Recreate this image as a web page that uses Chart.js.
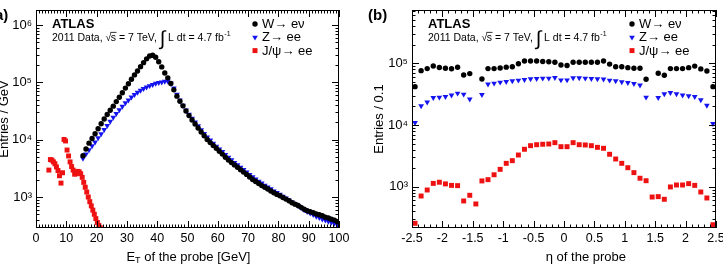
<!DOCTYPE html>
<html>
<head>
<meta charset="utf-8">
<script src="https://cdn.jsdelivr.net/npm/chart.js@4.4.1/dist/chart.umd.min.js"></script>
<style>
  html, body { margin: 0; padding: 0; background: #fff; }
  #wrap { position: relative; width: 723px; height: 271px; overflow: hidden; }
  canvas { position: absolute; top: 0; }
  #etChart { left: 0; width: 361px; height: 271px; }
  #etaChart { left: 361px; width: 362px; height: 271px; }
</style>
</head>
<body>
<div id="wrap">
  <canvas id="etChart" width="361" height="271"></canvas>
  <canvas id="etaChart" width="362" height="271"></canvas>
</div>
<script>
// ---- data: (a) probe ET, 1 GeV bins for W and Z, 0.5 GeV bins for J/psi ----
const etBins = [15.5, 16.5, 17.5, 18.5, 19.5, 20.5, 21.5, 22.5, 23.5, 24.5, 25.5, 26.5, 27.5, 28.5, 29.5,
  30.5, 31.5, 32.5, 33.5, 34.5, 35.5, 36.5, 37.5, 38.5, 39.5, 40.5, 41.5, 42.5, 43.5, 44.5,
  45.5, 46.5, 47.5, 48.5, 49.5, 50.5, 51.5, 52.5, 53.5, 54.5, 55.5, 56.5, 57.5, 58.5, 59.5,
  60.5, 61.5, 62.5, 63.5, 64.5, 65.5, 66.5, 67.5, 68.5, 69.5, 70.5, 71.5, 72.5, 73.5, 74.5,
  75.5, 76.5, 77.5, 78.5, 79.5, 80.5, 81.5, 82.5, 83.5, 84.5, 85.5, 86.5, 87.5, 88.5, 89.5,
  90.5, 91.5, 92.5, 93.5, 94.5, 95.5, 96.5, 97.5, 98.5, 99.5];
const wEt = [5250, 6900, 8700, 10500, 12700, 15500, 19000, 22900, 27500, 32700, 38500, 46200, 55000, 66000, 79400,
  94400, 113500, 135000, 158000, 188000, 221000, 257000, 288000, 298000, 275000, 229000, 186000, 146000, 120000, 95500,
  74000, 57500, 46800, 38900, 31600, 26300, 22100, 18800, 16000, 13600, 11700, 10100, 8900, 7950, 7100,
  6300, 5600, 4950, 4420, 3980, 3630, 3310, 2990, 2720, 2480, 2240, 2020, 1860, 1720, 1580,
  1480, 1380, 1270, 1190, 1110, 1050, 980, 920, 860, 795, 750, 710, 660, 610, 575,
  555, 530, 505, 490, 470, 445, 430, 410, 395, 370];
const zEt = [4730, 5620, 6610, 7760, 9020, 10700, 12600, 15000, 17600, 20900, 24500, 28500, 33100, 38000, 43700,
  49000, 55000, 61000, 66800, 72400, 77600, 82200, 87100, 91200, 95500, 98900, 101000, 103500, 104700, 96600,
  79400, 61700, 49000, 39800, 32700, 27500, 23400, 20200, 17400, 14800, 12700, 11100, 9800, 8600, 7670,
  6840, 6170, 5500, 4900, 4420, 3980, 3630, 3270, 2990, 2720, 2450, 2240, 2040, 1880, 1740,
  1600, 1480, 1380, 1270, 1190, 1110, 1020, 955, 880, 810, 760, 700, 645, 595, 555,
  520, 490, 460, 435, 410, 395, 375, 360, 345, 330];
const jpsiBins = [4.25, 4.75, 5.25, 5.75, 6.25, 6.75, 7.25, 7.75, 8.25, 8.75, 9.25, 9.75, 10.25, 10.75, 11.25, 11.75,
  12.25, 12.75, 13.25, 13.75, 14.25, 14.75, 15.25, 15.75, 16.25, 16.75, 17.25, 17.75, 18.25, 18.75,
  19.25, 19.75, 20.25, 20.75, 21.25, 21.75];
const jpsiEt = [2950, 4500, 4400, 4100, 3800, 3350, 2900, 2350, 1750, 2650, 10100, 9500, 6600, 5200, 4100, 3400,
  2950, 2500, 2550, 2800, 2750, 2550, 2200, 1800, 1480, 1220, 1000, 830, 700, 590,
  500, 420, 360, 320, 290, 260];

// ---- data: (b) probe eta, 0.1 bins (crack bin empty for W and Z) ----
const etaBins = [-2.45, -2.35, -2.25, -2.15, -2.05, -1.95, -1.85, -1.75, -1.65, -1.55,
  -1.45, -1.35, -1.25, -1.15, -1.05, -0.95, -0.85, -0.75, -0.65, -0.55,
  -0.45, -0.35, -0.25, -0.15, -0.05, 0.05, 0.15, 0.25, 0.35, 0.45,
  0.55, 0.65, 0.75, 0.85, 0.95, 1.05, 1.15, 1.25, 1.35, 1.45,
  1.55, 1.65, 1.75, 1.85, 1.95, 2.05, 2.15, 2.25, 2.35, 2.45];
const wEta = [41800, 76000, 82000, 90500, 85500, 83000, 81500, 86000, 64700, 68000,
  null, 55500, 82000, 82000, 84000, 86500, 88000, 98000, 109000, 109000,
  109000, 107000, 106000, 104000, 94000, 92000, 104000, 104000, 104000, 104000,
  104000, 109000, 97000, 88000, 88000, 85000, 83000, 83000, 55000, null,
  68800, 64000, 82000, 82000, 82000, 85000, 90000, 81000, 75000, 41800];
const zEta = [10900, 20300, 23500, 27700, 28100, 28800, 30300, 32600, 31400, 26100,
  null, 31000, 45700, 47400, 49200, 50400, 51600, 53000, 54200, 55700,
  56300, 57100, 57100, 58500, 53500, 53500, 57800, 57800, 57100, 56300,
  55700, 55100, 53000, 51600, 49700, 48500, 46700, 44000, 28100, null,
  27700, 31800, 33300, 31800, 30300, 29500, 28800, 25400, 20800, 10500];
const jpsiEta = [255, 706, 884, 1130, 1180, 1110, 1050, 1040, 587, 725,
  525, 1240, 1300, 1560, 1910, 2390, 2640, 3260, 4040, 4620,
  4790, 4870, 4920, 5170, 4450, 4450, 5170, 4790, 4740, 4620,
  4340, 4190, 3350, 2810, 2390, 2030, 1690, 1370, 1250, 680,
  690, 625, 990, 1065, 1065, 1120, 1050, 820, 656, 242];

const seriesNames = ['W\u2192 e\u03BD', 'Z\u2192 ee', 'J/\u03C8\u2192 ee'];

const FONT = "'Liberation Sans', Arial, Helvetica, sans-serif";
Chart.defaults.font.family = FONT;
Chart.defaults.color = '#000';

const SUP = { '2': '\u00B2', '3': '\u00B3', '4': '\u2074', '5': '\u2075', '6': '\u2076' };

function pts(xs, ys) {
  return xs.map((x, i) => ({ x: x, y: ys[i] })).filter(p => p.y !== null);
}

function makeDatasets(xW, yW, xZ, yZ, xJ, yJ) {
  return [
    { label: seriesNames[0], data: pts(xW, yW), backgroundColor: '#000', pointStyle: 'circle',
      pointRadius: 2.7, borderWidth: 0 },
    { label: seriesNames[1], data: pts(xZ, yZ), backgroundColor: '#1414f0', pointStyle: 'triangle',
      pointRotation: 180, pointRadius: 3.3, borderWidth: 0 },
    { label: seriesNames[2], data: pts(xJ, yJ), backgroundColor: '#ee1111', pointStyle: 'rect',
      pointRadius: 3.5, borderWidth: 0 }
  ];
}

// decades plus 2..9 minor ticks on the log axis
function logTicks(scale) {
  const ticks = [];
  const lo = Math.floor(Math.log10(scale.min)), hi = Math.ceil(Math.log10(scale.max));
  for (let e = lo; e <= hi; e++) {
    for (let m = 1; m < 10; m++) {
      const v = m * Math.pow(10, e);
      if (v >= scale.min && v <= scale.max) ticks.push({ value: v, major: m === 1 });
    }
  }
  scale.ticks = ticks;
}

function decadeLabel(v) {
  const e = Math.log10(v);
  if (Math.abs(e - Math.round(e)) < 1e-9) return '10' + SUP[String(Math.round(e))];
  return '';
}

// ROOT style frame with inward ticks on all four sides
const frameTicks = {
  id: 'frameTicks',
  afterDatasetsDraw(chart, args, opts) {
    const { ctx, chartArea: a } = chart;
    const xs = chart.scales.x, ys = chart.scales.y;
    ctx.save();
    ctx.strokeStyle = '#000';
    ctx.lineWidth = 1;
    ctx.strokeRect(a.left + 0.5, a.top + 0.5, a.right - a.left - 1, a.bottom - a.top - 1);
    ctx.beginPath();
    // x: minor every opts.minorStep, major on labelled ticks
    const n = Math.round((xs.max - xs.min) / opts.minorStep);
    for (let i = 0; i <= n; i++) {
      const v = xs.min + i * opts.minorStep;
      const major = Math.abs(v / opts.majorStep - Math.round(v / opts.majorStep)) < 1e-6;
      const len = major ? 7 : 3.5;
      const px = Math.round(xs.getPixelForValue(v)) + 0.5;
      ctx.moveTo(px, a.bottom); ctx.lineTo(px, a.bottom - len);
      ctx.moveTo(px, a.top); ctx.lineTo(px, a.top + len);
    }
    ys.ticks.forEach(t => {
      const len = t.major ? 7 : 3.5;
      const py = Math.round(ys.getPixelForValue(t.value)) + 0.5;
      ctx.moveTo(a.left, py); ctx.lineTo(a.left + len, py);
      ctx.moveTo(a.right, py); ctx.lineTo(a.right - len, py);
    });
    ctx.stroke();
    ctx.restore();
  }
};

// ATLAS label, luminosity text, legend, panel letter and x title
const atlasText = {
  id: 'atlasText',
  afterDraw(chart, args, opts) {
    const { ctx, chartArea: a } = chart;
    ctx.save();
    ctx.fillStyle = '#000';
    ctx.textAlign = 'left';
    ctx.textBaseline = 'alphabetic';

    // panel letter
    ctx.font = 'bold 15px ' + FONT;
    ctx.fillText(opts.panel, opts.panelX, 19.5);

    // ATLAS
    let x = a.left + 16;
    ctx.font = 'bold 13px ' + FONT;
    ctx.fillText('ATLAS', x, 28);

    // 2011 Data, sqrt(s) = 7 TeV, int L dt = 4.7 fb-1
    let y = 40.5;
    ctx.font = '10.5px ' + FONT;
    let t = '2011 Data, ';
    ctx.fillText(t, x, y); x += ctx.measureText(t).width;
    ctx.fillText('\u221A', x, y); x += ctx.measureText('\u221A').width - 0.5;
    const sw = ctx.measureText('s').width;
    ctx.fillText('s', x, y);
    ctx.fillRect(x - 0.5, y - 8.6, sw + 1, 0.8);
    x += sw;
    t = ' = 7 TeV, ';
    ctx.fillText(t, x, y); x += ctx.measureText(t).width;
    ctx.font = '20px ' + FONT;
    ctx.fillText('\u222B', x, y + 4.5); x += ctx.measureText('\u222B').width;
    ctx.font = '10.5px ' + FONT;
    t = ' L dt = 4.7 fb';
    ctx.fillText(t, x, y); x += ctx.measureText(t).width;
    ctx.font = '7px ' + FONT;
    ctx.fillText('-1', x + 0.5, y - 5);

    // legend
    const lx = a.right - 84;
    const rows = [24, 37.3, 50.6];
    chart.data.datasets.forEach((ds, i) => {
      ctx.fillStyle = ds.backgroundColor;
      Chart.helpers.drawPoint(ctx, {
        pointStyle: ds.pointStyle, radius: ds.pointRadius,
        rotation: ds.pointRotation || 0, borderWidth: 0
      }, lx, rows[i]);
      ctx.fillStyle = '#000';
      ctx.font = '13px ' + FONT;
      ctx.textBaseline = 'middle';
      ctx.fillText(ds.label, lx + 7, rows[i] + 0.5);
    });

    // x axis title
    ctx.textBaseline = 'middle';
    ctx.font = '13px ' + FONT;
    const cx = a.left + opts.titleFrac * (a.right - a.left);
    const ty = 257;
    if (opts.subTitle) {
      const main = opts.xTitle[0], sub = opts.xTitle[1], rest = opts.xTitle[2];
      ctx.font = '13px ' + FONT;
      const w1 = ctx.measureText(main).width, w3 = ctx.measureText(rest).width;
      ctx.font = '9px ' + FONT;
      const w2 = ctx.measureText(sub).width;
      let tx = cx - (w1 + w2 + w3) / 2;
      ctx.font = '13px ' + FONT;
      ctx.fillText(main, tx, ty); tx += w1;
      ctx.font = '9px ' + FONT;
      ctx.fillText(sub, tx, ty + 4); tx += w2;
      ctx.font = '13px ' + FONT;
      ctx.fillText(rest, tx, ty);
    } else {
      ctx.textAlign = 'center';
      ctx.fillText(opts.xTitle, cx, ty);
    }
    ctx.restore();
  }
};

function makeChart(id, cfg) {
  return new Chart(document.getElementById(id), {
    type: 'scatter',
    data: { datasets: cfg.datasets },
    options: {
      responsive: false,
      animation: false,
      devicePixelRatio: 1,
      layout: { padding: { top: 10, right: cfg.padRight, left: 0, bottom: 0 } },
      scales: {
        x: {
          type: 'linear', min: cfg.xMin, max: cfg.xMax,
          grid: { display: false, drawTicks: false },
          border: { display: false },
          ticks: {
            stepSize: cfg.xStep, autoSkip: false, maxRotation: 0, padding: 3,
            font: { size: 12.5 }, color: '#000',
            callback: v => String(Math.round(v * 10) / 10)
          },
          afterFit: s => { s.height = 43; s.paddingLeft = 0; s.paddingRight = 0; }
        },
        y: {
          type: 'logarithmic', min: cfg.yMin, max: cfg.yMax,
          grid: { display: false, drawTicks: false },
          border: { display: false },
          afterBuildTicks: logTicks,
          ticks: { autoSkip: false, padding: 4, font: { size: 13 }, color: '#000', callback: decadeLabel },
          title: {
            display: true, text: cfg.yTitle, color: '#000',
            font: { size: 13, lineHeight: 0.9 },
            padding: { top: cfg.yTitlePad, bottom: 0 }
          },
          afterFit: s => { s.width = cfg.yWidth; s.paddingTop = 0; s.paddingBottom = 0; }
        }
      },
      plugins: {
        legend: { display: false },
        tooltip: { enabled: false },
        frameTicks: { minorStep: cfg.minorStep, majorStep: cfg.xStep },
        atlasText: cfg.text
      }
    },
    plugins: [frameTicks, atlasText]
  });
}

makeChart('etChart', {
  datasets: makeDatasets(etBins, wEt, etBins, zEt, jpsiBins, jpsiEt),
  xMin: 0, xMax: 100, xStep: 10, minorStep: 1,
  yMin: 288, yMax: 1.83e6, yWidth: 36, yTitle: 'Entries / GeV', yTitlePad: -1,
  padRight: 22,
  text: { panel: '(a)', panelX: -10, xTitle: ['E', 'T', ' of the probe [GeV]'], subTitle: true, titleFrac: 0.503 }
});

makeChart('etaChart', {
  datasets: makeDatasets(etaBins, wEta, etaBins, zEta, etaBins, jpsiEta),
  xMin: -2.5, xMax: 2.5, xStep: 0.5, minorStep: 0.1,
  yMin: 214, yMax: 7.3e5, yWidth: 51, yTitle: 'Entries / 0.1', yTitlePad: 12.5,
  padRight: 7,
  text: { panel: '(b)', panelX: 7, xTitle: '\u03B7 of the probe', subTitle: false, titleFrac: 0.572 }
});
</script>
</body>
</html>
